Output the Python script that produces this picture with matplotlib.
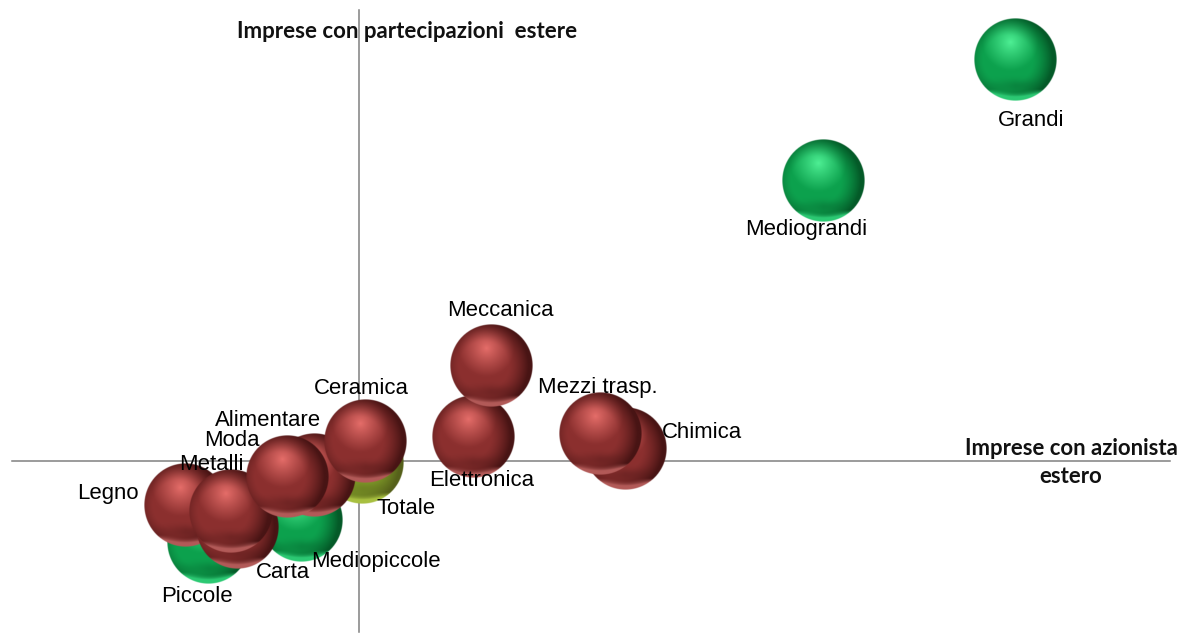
# -*- coding: utf-8 -*-
import numpy as np
import matplotlib
matplotlib.use("Agg")
import matplotlib.pyplot as plt
from matplotlib.colors import to_rgb

# settori (rossi) e classi dimensionali (verdi); il disegno segue quest'ordine
nomi = ["Piccole", "Mediopiccole", "Totale", "Legno", "Carta", "Metalli", "Alimentare",
        "Moda", "Ceramica", "Elettronica", "Meccanica", "Chimica", "Mezzi trasp.",
        "Mediograndi", "Grandi"]
x_val = [-15.1, -5.8, 0.3, -17.4, -12.2, -12.8, -4.5, -7.2, 0.6, 11.4, 13.2, 26.6, 24.1, 46.4, 65.6]
y_val = [-8.1, -5.9, -0.2, -4.4, -6.6, -5.0, -1.4, -1.6, 1.9, 2.4, 9.5, 1.2, 2.7, 28.0, 40.1]
tipo = ["g", "g", "o", "r", "r", "r", "r", "r", "r", "r", "r", "r", "r", "g", "g"]

# spostamento delle etichette rispetto al centro, in pixel
lab_dx = [-11, 75, 44, -77, 46, -20, -46, -55, -4, 9, 9, 77, -2, -17, 16]
lab_dy = [54, 41, 45, -11, 46, -46, -54, -36, -53, 43, -55, -17, -47, 49, 61]

PALETTE = {
    # luce, base, ombra, riflesso in basso
    "r": ("#e66e6a", "#8c302f", "#481414", "#b25a58"),
    "g": ("#4ff095", "#0da24e", "#045a28", "#2cc973"),
    "o": ("#b8cc50", "#7f9a28", "#55601a", "#a8c040"),
}
RAGGIO = 4.15


def sfera(chiave, n=200):
    luce, base, ombra, rifl = [np.array(to_rgb(c)) for c in PALETTE[chiave]]
    u, v = np.meshgrid(np.linspace(-1, 1, n), np.linspace(-1, 1, n))
    r = np.hypot(u, v)
    d = np.clip(np.hypot(u + 0.12, v + 0.42) / 0.68, 0, 1)
    t = d[..., None] ** 0.9
    rgb = luce * (1 - t) + base * t
    # bordo scuro, piu' marcato a destra
    s = (np.clip((np.hypot(u + 0.18, v) - 0.58) / 0.5, 0, 1) ** 1.4)[..., None]
    rgb = rgb * (1 - s) + ombra * s
    # ombra sotto il centro, poi riflesso sul fondo
    b = (np.exp(-((v - 0.62) / 0.14) ** 2) * np.clip(1 - np.abs(u) / 0.9, 0, 1))[..., None]
    rgb = rgb * (1 - 0.35 * b) + ombra * 0.35 * b
    f = (np.clip((v - 0.72) / 0.25, 0, 1) * np.clip((r - 0.78) / 0.22, 0, 1))[..., None]
    f = np.clip(f * 2.5, 0, 1)
    rgb = rgb * (1 - f) + rifl * f
    alfa = np.clip((1 - r) * n / 2, 0, 1)
    return np.dstack([rgb, alfa])


fig = plt.figure(figsize=(11.8, 6.33), dpi=100)
ax = fig.add_axes([0, 0, 1, 1])

# assi a croce nell'origine
ax.plot([-34.7, 81.1], [0, 0], color="#808080", lw=1.1, zorder=1)
ax.plot([0, 0], [-17.1, 45.1], color="#808080", lw=1.1, zorder=1)

for i, (xx, yy, k) in enumerate(zip(x_val, y_val, tipo)):
    ax.imshow(sfera(k), extent=[xx - RAGGIO, xx + RAGGIO, yy - RAGGIO, yy + RAGGIO],
              origin="upper", interpolation="bilinear", zorder=2 + i * 0.01, aspect="auto")

for nome, xx, yy, dx, dy in zip(nomi, x_val, y_val, lab_dx, lab_dy):
    ax.annotate(nome, (xx, yy), xytext=(dx * 0.72, -dy * 0.72), textcoords="offset points",
                ha="center", va="center", fontsize=15.9, family="Liberation Sans",
                color="black", zorder=5)

ax.text(4.85, 43.0, "Imprese con partecipazioni  estere", ha="center", va="center",
        fontsize=16, fontweight="bold", family="Lato", color="#111111", zorder=5)
ax.text(71.2, -0.15, "Imprese con azionista\nestero", ha="center", va="center",
        fontsize=15.9, fontweight="bold", family="Lato", color="#111111", linespacing=1.4, zorder=5)

ax.set_xlim(-35.9, 82.1)
ax.set_ylim(-17.2, 46.1)
ax.axis("off")
fig.savefig("out.png", dpi=100)
